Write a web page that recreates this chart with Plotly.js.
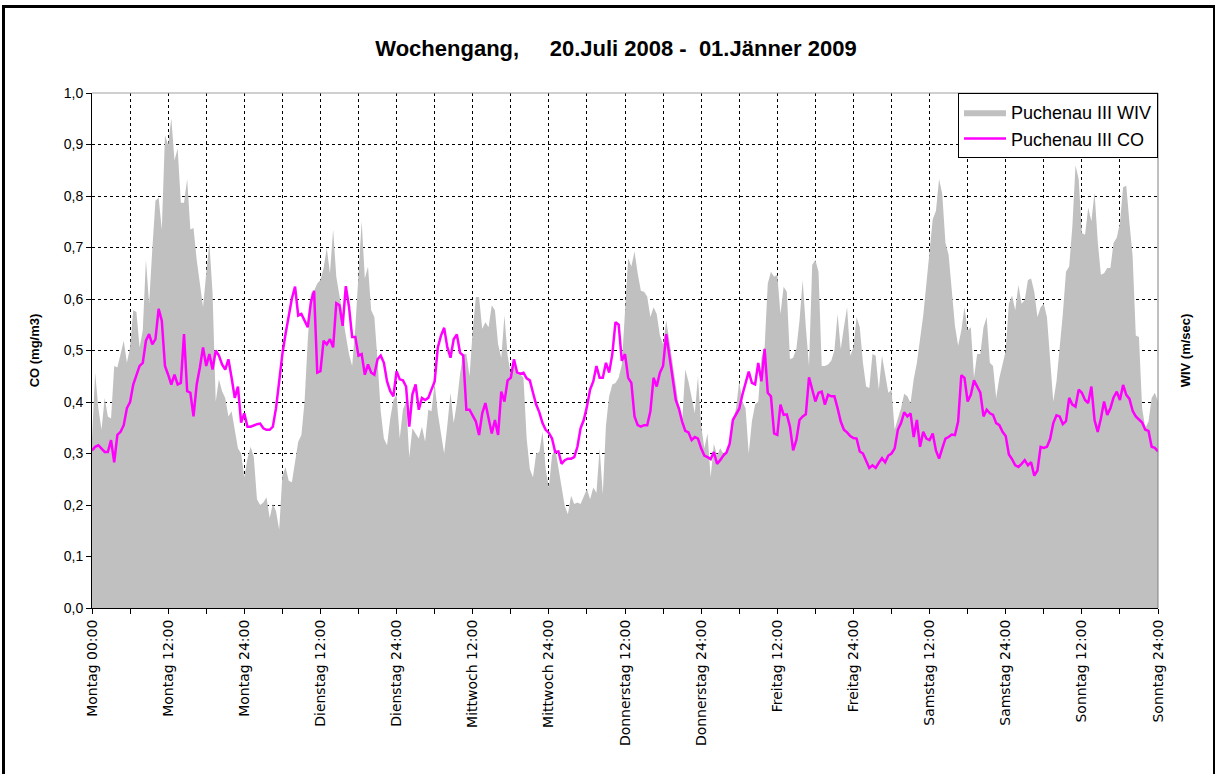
<!DOCTYPE html>
<html>
<head>
<meta charset="utf-8">
<script src="https://cdn.plot.ly/plotly-3.0.1.min.js"></script>
<style>
  body { margin: 0; background: #fff; }
  #chart { position: absolute; left: 0; top: 0; width: 1215px; height: 774px; }
  #frame { position: absolute; left: 2px; top: 5px; width: 1208px; height: 820px;
           border: 3px solid #000; pointer-events: none; }
</style>
</head>
<body>
<div id="chart"></div>
<div id="frame"></div>
<script>
// half-hourly values, each day starts at 00:00
const coMo = [0.306,0.313,0.316,0.31,0.303,0.303,0.326,0.283,0.336,0.342,0.355,0.388,0.40,0.434,0.453,0.47,0.476,0.519,0.532,0.512,0.522,0.581,0.558,0.47,0.453,0.434,0.453,0.434,0.437,0.532,0.421,0.418,0.372,0.434,0.467,0.506,0.47,0.493,0.463,0.5,0.49,0.473,0.463,0.483,0.447,0.408,0.43,0.36];
const coDi = [0.378,0.352,0.352,0.355,0.357,0.358,0.349,0.346,0.346,0.352,0.388,0.44,0.493,0.532,0.571,0.601,0.624,0.568,0.571,0.558,0.545,0.594,0.616,0.457,0.46,0.519,0.512,0.522,0.506,0.592,0.588,0.548,0.625,0.585,0.526,0.526,0.49,0.493,0.453,0.473,0.457,0.453,0.483,0.49,0.476,0.44,0.421,0.411];
const coMi = [0.46,0.444,0.442,0.43,0.352,0.415,0.434,0.385,0.408,0.404,0.408,0.424,0.44,0.506,0.529,0.544,0.506,0.486,0.522,0.531,0.496,0.49,0.385,0.385,0.372,0.362,0.336,0.378,0.398,0.365,0.339,0.365,0.336,0.42,0.401,0.442,0.447,0.483,0.457,0.455,0.457,0.446,0.442,0.418,0.395,0.38,0.359,0.346];
const coDo = [0.34,0.329,0.303,0.304,0.28,0.287,0.29,0.29,0.293,0.313,0.349,0.365,0.391,0.424,0.44,0.47,0.447,0.447,0.476,0.457,0.493,0.555,0.55,0.48,0.493,0.447,0.437,0.372,0.355,0.352,0.355,0.355,0.382,0.447,0.43,0.457,0.47,0.532,0.493,0.447,0.404,0.387,0.362,0.344,0.341,0.326,0.332,0.329];
const coFr = [0.31,0.296,0.293,0.289,0.303,0.28,0.287,0.296,0.302,0.319,0.365,0.376,0.387,0.414,0.435,0.459,0.437,0.434,0.476,0.44,0.503,0.418,0.411,0.339,0.336,0.395,0.375,0.376,0.352,0.306,0.326,0.365,0.372,0.376,0.448,0.424,0.401,0.418,0.42,0.395,0.414,0.411,0.411,0.388,0.362,0.346,0.341,0.334];
const coSa = [0.33,0.329,0.304,0.3,0.287,0.272,0.277,0.272,0.282,0.291,0.283,0.296,0.3,0.31,0.346,0.359,0.38,0.372,0.378,0.332,0.365,0.313,0.342,0.329,0.326,0.339,0.306,0.29,0.31,0.329,0.332,0.337,0.336,0.362,0.452,0.447,0.401,0.414,0.442,0.43,0.418,0.372,0.385,0.378,0.375,0.359,0.355,0.342];
const coSo = [0.334,0.298,0.289,0.277,0.274,0.28,0.287,0.277,0.283,0.257,0.267,0.313,0.311,0.313,0.328,0.359,0.374,0.372,0.357,0.363,0.408,0.395,0.391,0.424,0.418,0.404,0.398,0.43,0.365,0.342,0.368,0.401,0.375,0.388,0.409,0.42,0.404,0.433,0.414,0.406,0.383,0.372,0.366,0.36,0.346,0.344,0.313,0.311];
const coEnd = 0.304;

const wivMo = [0.33,0.457,0.388,0.346,0.408,0.372,0.368,0.47,0.467,0.496,0.519,0.476,0.506,0.578,0.575,0.506,0.539,0.676,0.591,0.696,0.791,0.797,0.735,0.918,0.899,0.951,0.869,0.892,0.787,0.787,0.833,0.735,0.738,0.676,0.624,0.584,0.65,0.709,0.611,0.401,0.444,0.421,0.408,0.372,0.382,0.342,0.31,0.3];
const wivDi = [0.254,0.29,0.313,0.293,0.211,0.2,0.205,0.215,0.175,0.202,0.188,0.152,0.257,0.274,0.247,0.244,0.283,0.323,0.336,0.401,0.519,0.611,0.616,0.63,0.637,0.66,0.699,0.65,0.735,0.643,0.607,0.565,0.529,0.493,0.47,0.545,0.65,0.751,0.64,0.663,0.578,0.565,0.48,0.382,0.329,0.316,0.368,0.404];
const wivMi = [0.414,0.329,0.385,0.401,0.293,0.349,0.339,0.329,0.352,0.323,0.385,0.382,0.437,0.378,0.339,0.3,0.355,0.418,0.359,0.398,0.454,0.493,0.493,0.45,0.539,0.604,0.604,0.542,0.555,0.545,0.588,0.578,0.512,0.486,0.568,0.49,0.454,0.473,0.454,0.454,0.447,0.329,0.27,0.254,0.3,0.303,0.342,0.27];
const wivDo = [0.234,0.296,0.31,0.274,0.231,0.198,0.182,0.218,0.202,0.205,0.202,0.217,0.231,0.211,0.234,0.224,0.31,0.221,0.355,0.411,0.434,0.437,0.447,0.473,0.584,0.679,0.663,0.692,0.65,0.616,0.614,0.605,0.565,0.584,0.571,0.529,0.512,0.558,0.519,0.473,0.427,0.391,0.362,0.463,0.44,0.408,0.378,0.45];
const wivFr = [0.355,0.31,0.339,0.254,0.319,0.296,0.31,0.3,0.303,0.323,0.362,0.388,0.44,0.401,0.388,0.3,0.362,0.395,0.401,0.486,0.506,0.63,0.653,0.643,0.647,0.571,0.624,0.614,0.483,0.486,0.503,0.558,0.637,0.545,0.47,0.666,0.676,0.653,0.47,0.47,0.473,0.48,0.5,0.571,0.503,0.545,0.584,0.49];
const wivSa = [0.506,0.565,0.545,0.476,0.43,0.427,0.493,0.49,0.424,0.49,0.45,0.418,0.424,0.346,0.368,0.388,0.416,0.411,0.398,0.444,0.476,0.519,0.568,0.63,0.686,0.755,0.771,0.833,0.804,0.709,0.686,0.614,0.548,0.509,0.539,0.584,0.539,0.545,0.447,0.493,0.493,0.545,0.565,0.476,0.47,0.408,0.447,0.473];
const wivSo = [0.5,0.591,0.607,0.578,0.627,0.591,0.598,0.637,0.64,0.614,0.565,0.584,0.591,0.565,0.48,0.401,0.44,0.499,0.571,0.653,0.663,0.741,0.859,0.833,0.728,0.725,0.777,0.751,0.807,0.712,0.647,0.65,0.66,0.66,0.709,0.719,0.748,0.817,0.82,0.748,0.683,0.529,0.526,0.388,0.349,0.362,0.408,0.418];
const wivEnd = 0.401;

const tickLabels = ['Montag 00:00','Montag 12:00','Montag 24:00','Dienstag 12:00','Dienstag 24:00',
  'Mittwoch 12:00','Mittwoch 24:00','Donnerstag 12:00','Donnerstag 24:00','Freitag 12:00',
  'Freitag 24:00','Samstag 12:00','Samstag 24:00','Sonntag 12:00','Sonntag 24:00'];

const co = [].concat(coMo, coDi, coMi, coDo, coFr, coSa, coSo, [coEnd]);
const wiv = [].concat(wivMo, wivDi, wivMi, wivDo, wivFr, wivSa, wivSo, [wivEnd]);
const hours = co.map((v, i) => i * 0.5);

// ticks every 6 h, label every 12 h
let tickVals = [], tickText = [];
for (let h = 0; h <= 168; h += 6) {
  tickVals.push(h);
  tickText.push(h % 12 === 0 ? tickLabels[h / 12] : '');
}

const traces = [
  {x: hours, y: wiv, name: 'Puchenau III WIV', type: 'scatter', mode: 'lines',
   fill: 'tozeroy', fillcolor: '#c0c0c0', line: {width: 0, color: '#c0c0c0'}},
  {x: hours, y: co, name: 'Puchenau III CO', type: 'scatter', mode: 'lines',
   line: {color: '#ff00ff', width: 2.5}},
  // empty trace so the right-hand axis (title only) is drawn
  {x: [], y: [], yaxis: 'y2', showlegend: false, hoverinfo: 'skip'}
];

const layout = {
  width: 1215, height: 774,
  margin: {l: 92, r: 57, t: 93, b: 166},
  paper_bgcolor: '#fff', plot_bgcolor: '#fff',
  separators: ',.',
  font: {family: 'Arial, Liberation Sans, sans-serif', size: 14, color: '#000'},
  showlegend: true,
  title: {text: '<b>Wochengang,\u00a0\u00a0\u00a0\u00a0 20.Juli 2008 -\u00a0 01.Jänner 2009</b>',
          font: {size: 22, family: 'Arial, Liberation Sans, sans-serif', color: '#000'},
          x: 0.507, xanchor: 'center', y: 0.938, yanchor: 'middle'},
  xaxis: {range: [0, 168], tickmode: 'array', tickvals: tickVals, ticktext: tickText,
          tickangle: -90, ticks: 'outside', ticklen: 5, tickcolor: '#000',
          showgrid: true, gridcolor: '#000', griddash: '3px,3px', gridwidth: 1,
          showline: true, linecolor: '#000', linewidth: 1, zeroline: false,
          tickfont: {family: 'DejaVu Sans, sans-serif', size: 14}},
  yaxis: {range: [0, 1], dtick: 0.1, tickformat: '.1f', ticks: 'outside', ticklen: 5,
          tickcolor: '#000', showgrid: true, gridcolor: '#000', griddash: '3px,3px',
          showline: true, linecolor: '#000', linewidth: 1, zeroline: false,
          tickfont: {size: 14},
          title: {text: '<b>CO (mg/m3)</b>', font: {size: 13}, standoff: 21}},
  yaxis2: {range: [0, 1], overlaying: 'y', side: 'right', showgrid: false,
           showticklabels: false, ticks: '', zeroline: false, showline: false,
           title: {text: '<b>WIV (m/sec)</b>', font: {size: 13}, standoff: 22}},
  legend: {x: 1, xanchor: 'right', y: 1, yanchor: 'top', bgcolor: '#fff',
           bordercolor: '#000', borderwidth: 1, font: {size: 18}, itemwidth: 42},
  shapes: [
    {type: 'line', xref: 'paper', yref: 'paper', x0: 0, x1: 1, y0: 1, y1: 1,
     line: {color: '#a0a0a0', width: 1}},
    {type: 'line', xref: 'paper', yref: 'paper', x0: 1, x1: 1, y0: 0, y1: 1,
     line: {color: '#808080', width: 1}}
  ]
};

Plotly.newPlot('chart', traces, layout, {displayModeBar: false, staticPlot: true});
</script>
</body>
</html>
